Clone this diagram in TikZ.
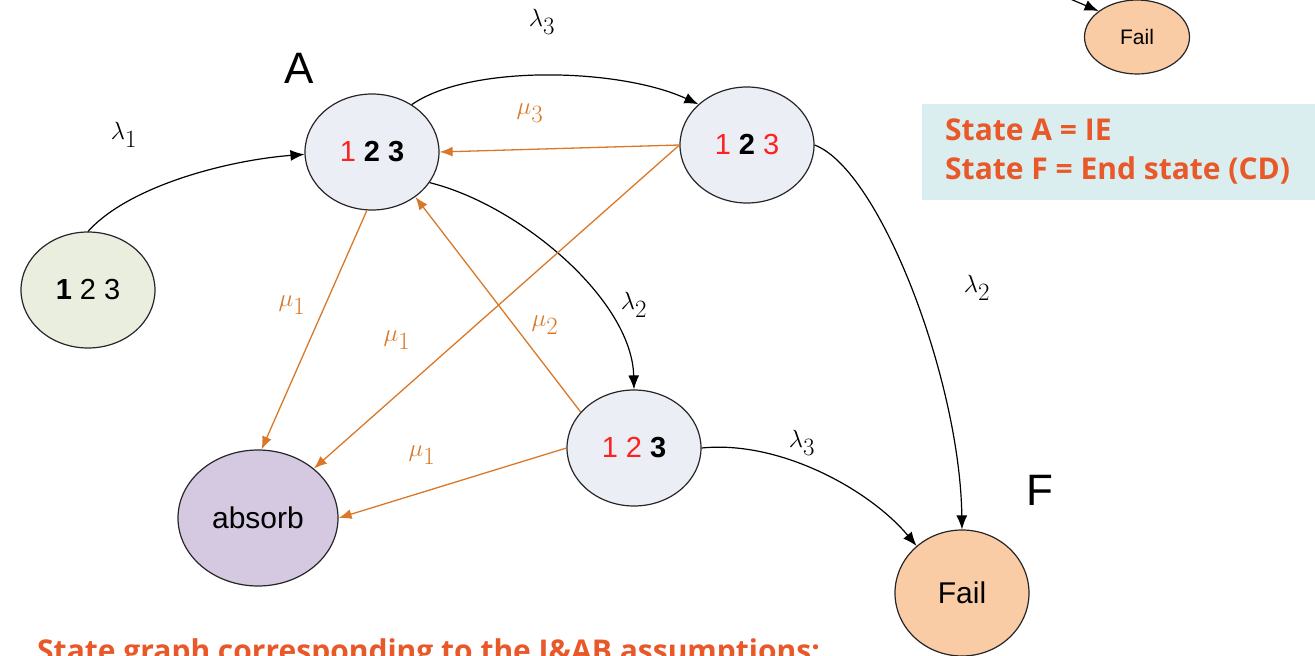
\documentclass[tikz,border=0pt]{standalone}
\usepackage{fontspec}
\setmainfont{Liberation Sans}
\newfontfamily\legfont{Open Sans}
\usetikzlibrary{positioning,arrows.meta,shapes.geometric}
\tikzset{>={Latex[length=14pt,width=11pt]}}
\definecolor{edgeor}{RGB}{217,120,40}
\definecolor{legor}{RGB}{232,88,40}
\definecolor{legbg}{RGB}{218,237,239}
\definecolor{digred}{RGB}{255,32,32}
\definecolor{fillst}{RGB}{233,238,222}
\definecolor{fillop}{RGB}{235,238,244}
\definecolor{fillab}{RGB}{213,201,226}
\definecolor{fillfl}{RGB}{249,204,166}
\newcommand{\rd}[1]{\textcolor{digred}{#1}}
\newcommand{\bd}[1]{\textbf{#1}}

\begin{document}
\begin{tikzpicture}[x=1pt, y=-1pt,
  state/.style={draw=black!85, line width=1.2pt, ellipse, inner sep=0pt,
    minimum width=134pt, minimum height=116pt, font=\fontsize{29}{33}\selectfont},
  lab/.style={font=\fontsize{33}{36}\selectfont},
  olab/.style={lab, text=edgeor},
  big/.style={font=\fontsize{44}{48}\selectfont},
  bk/.style={->, line width=1.2pt},
  oe/.style={->, draw=edgeor, line width=1.3pt, >={Latex[length=13pt,width=10pt]}}]
\clip (0,0) rectangle (1315,656);
% states
\node[state, fill=fillst] (s) at (88,290) {\bd{1} 2 3};
\node[state, fill=fillop] (A) at (372,152) {\rd{1} \bd{2} \bd{3}};
\node[state, fill=fillop] (B) at (747,145) {\rd{1} \bd{2} \rd{3}};
\node[state, fill=fillop] (C) at (634,448) {\rd{1} \rd{2} \bd{3}};
\node[state, fill=fillab, minimum width=160pt, minimum height=136pt,
  font=\fontsize{30}{34}\selectfont] (ab) at (258,518) {absorb};
\node[state, fill=fillfl, minimum width=134pt, minimum height=126pt,
  font=\fontsize{30}{34}\selectfont] (F) at (962,593) {Fail};
\node[state, fill=fillfl, minimum width=105pt, minimum height=74pt,
  font=\fontsize{21}{24}\selectfont] (f2) at (1137,37) {Fail};
\coordinate (ft) at (1040,-14);
% state names
\node[big] (nA) at (299,68) {A};
\node[big] (nF) at (1040,490) {F};
% rate labels
\node[lab] (l1) at (124,135) {$\lambda_1$};
\node[lab] (l3a) at (542,22) {$\lambda_3$};
\node[olab] (m3) at (530,113) {$\mu_3$};
\node[olab] (m1a) at (292,305) {$\mu_1$};
\node[olab] (m1b) at (397,340) {$\mu_1$};
\node[olab] (m2) at (545,325) {$\mu_2$};
\node[lab] (l2a) at (634,305) {$\lambda_2$};
\node[lab] (l2b) at (977,288) {$\lambda_2$};
\node[lab] (l3b) at (802,443) {$\lambda_3$};
\node[olab] (m1c) at (422,455) {$\mu_1$};
% failure transitions
\draw[bk] (s.north) .. controls (130,185) and (230,160) .. (A.182);
\draw[bk] (A.50) .. controls (470,64) and (620,68) .. (B.140);
\draw[bk] (A.332) .. controls (520,205) and (632,300) .. (C.north);
\draw[bk] (B.east) .. controls (880,170) and (960,380) .. (F.north);
\draw[bk] (C.east) .. controls (780,440) and (870,490) .. (F.134);
\draw[bk] (ft) -- (f2.146);
% repairs
\draw[oe] (B.west) -- (A.east);
\draw[oe] (B.west) -- (ab);
\draw[oe] (A.265) -- (ab.87);
\draw[oe] (C.146) -- (A.314);
\draw[oe] (C.west) -- (ab.east);
% legend and caption
\node[fill=legbg, anchor=north west, minimum width=393pt, minimum height=96pt,
  inner sep=0pt] (legbox) at (922,104) {};
\node[anchor=west, inner sep=0pt, align=left, text=legor,
  font=\legfont\bfseries\fontsize{30}{39}\selectfont] (leg) at (945,152)
  {State A = IE\\State F = End state (CD)};
\node[anchor=base west, inner sep=0pt, text=legor,
  font=\legfont\bfseries\fontsize{30}{36}\selectfont] (cap) at (37,661)
  {State graph corresponding to the I\&AB assumptions:};
\end{tikzpicture}
\end{document}
